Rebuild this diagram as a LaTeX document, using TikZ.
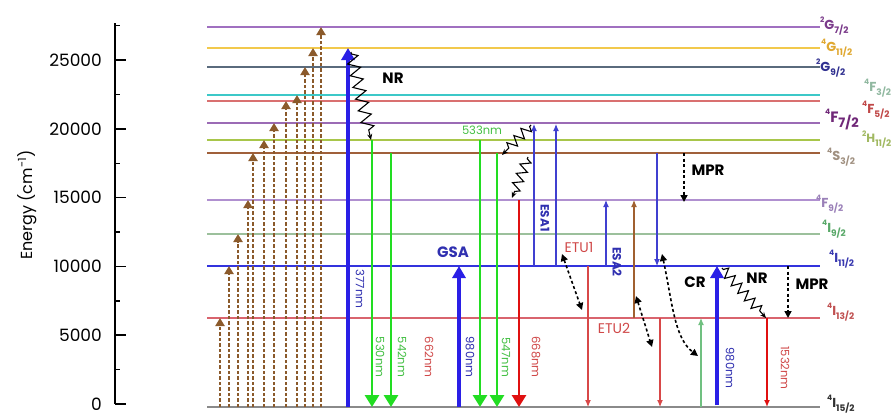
\documentclass[tikz,border=0pt]{standalone}
\usepackage{fontspec}
\setmainfont{Poppins}
\usetikzlibrary{arrows.meta,decorations.pathmorphing}
\definecolor{cG7}{HTML}{A070C0}
\definecolor{cG11}{HTML}{F2C94C}
\definecolor{cG9}{HTML}{5A6B7D}
\definecolor{cF3}{HTML}{3CC8C8}
\definecolor{cF5}{HTML}{D97070}
\definecolor{cF7}{HTML}{9B6BB5}
\definecolor{cH11}{HTML}{A8C64A}
\definecolor{cS3}{HTML}{A0603A}
\definecolor{cF9}{HTML}{B090D0}
\definecolor{cI9}{HTML}{9CC09C}
\definecolor{cI11}{HTML}{3333DD}
\definecolor{cI13}{HTML}{D9646E}
\definecolor{cI15}{HTML}{8A8A8A}
\definecolor{tG7}{HTML}{7A3A8A}
\definecolor{tG11}{HTML}{E0A830}
\definecolor{tG9}{HTML}{303090}
\definecolor{tF3}{HTML}{90B8A0}
\definecolor{tF5}{HTML}{C04848}
\definecolor{tF7}{HTML}{702878}
\definecolor{tH11}{HTML}{A0B860}
\definecolor{tS3}{HTML}{A09080}
\definecolor{tF9}{HTML}{9A80B8}
\definecolor{tI9}{HTML}{58A868}
\definecolor{tI11}{HTML}{3838B0}
\definecolor{tI13}{HTML}{C05050}
\definecolor{tI15}{HTML}{303030}
\definecolor{brn}{HTML}{8B5A2B}
\definecolor{bigblue}{HTML}{2A1FE6}
\definecolor{biggreen}{HTML}{22DD22}
\definecolor{bigred}{HTML}{E01010}
\definecolor{txtblue}{HTML}{3030B0}
\definecolor{txtgreen}{HTML}{44C044}
\definecolor{txtred}{HTML}{D04848}
\definecolor{thinblue}{HTML}{4040D0}
\definecolor{thinred}{HTML}{D84848}
\definecolor{thinbrown}{HTML}{A06030}
\definecolor{thingreen}{HTML}{70C080}
\newcommand\lv[3]{\raisebox{0.5em}{\fontsize{7.5}{7.5}\selectfont #1}#2\raisebox{-0.35em}{\fontsize{9}{9}\selectfont #3}}
\begin{document}
\begin{tikzpicture}[x=1pt,y=-1pt,
  level/.style={line width=1.2pt},
  lbl/.style={font=\fontsize{13}{13}\selectfont\bfseries, inner sep=0pt, anchor=base west},
  ticklbl/.style={font=\fontsize{17}{17}\selectfont, anchor=east, inner sep=0pt},
  wl/.style={font=\fontsize{11.5}{11.5}\selectfont, rotate=-90, inner sep=0pt},
  bold/.style={font=\fontsize{15}{15}\selectfont\bfseries, inner sep=0pt},
  brownarrow/.style={draw=brn, line width=2pt, dash pattern=on 3.5pt off 2pt, -{Triangle[length=8pt,width=9pt,fill=brn]}},
  thickup/.style={line width=3.2pt, -{Triangle[length=12pt,width=13pt]}},
  thickdown/.style={line width=2.8pt, -{Triangle[length=12pt,width=14pt]}},
  thin/.style={line width=1.1pt, -{Latex[length=7pt,width=6pt]}},
  dots/.style={line width=1.6pt, dash pattern=on 3pt off 2.5pt, -{Triangle[length=7pt,width=7pt]}},
  ddots/.style={line width=1.6pt, dash pattern=on 3pt off 2.5pt, {Triangle[length=7pt,width=7pt]}-{Triangle[length=7pt,width=7pt]}},
  zz/.style={line width=1.1pt, decorate, decoration={zigzag, amplitude=6pt, segment length=12pt, pre length=2pt, post length=5pt}, -{Stealth[length=6pt,width=5pt]}}
]
\useasboundingbox (0,0) rectangle (892,415);
\fill[white] (0,0) rectangle (892,415);

% axis
\draw[line width=1.6pt] (115,23) coordinate (axtop) -- (115,404) coordinate (axbot);
\foreach \e/\lab/\n in {0/0/t0,50/5000/t5,100/10000/t10,150/15000/t15,200/20000/t20,250/25000/t25}{
  \pgfmathsetmacro\yy{404-\e*1.376}
  \draw[line width=1.6pt] (115,\yy) coordinate (\n a) -- (126,\yy) coordinate (\n b);
  \node[ticklbl] (\n l) at (102,\yy) {\lab};
}
\foreach \e/\n in {25/m1,75/m2,125/m3,175/m4,225/m5,275/m6}{
  \pgfmathsetmacro\yy{404-\e*1.376}
  \draw[line width=1.4pt] (115,\yy) coordinate (\n a) -- (120,\yy) coordinate (\n b);
}
\node[rotate=90, font=\fontsize{16}{16}\selectfont, inner sep=0pt] (elabel) at (27,205) {Energy (cm\textsuperscript{-1})};

% levels
\foreach \nm/\yy/\cc in {G7/27/cG7, G11/48/cG11, G9/67/cG9, F3/95/cF3, F5/101/cF5, F7/123/cF7, H11/140/cH11, S3/153/cS3, F9/200/cF9, I9/234/cI9, I13/318/cI13, I15/407/cI15}{
  \draw[level, \cc] (207,\yy) coordinate (\nm-l) -- (820,\yy) coordinate (\nm-r);
}
\draw[line width=2pt, cI11] (207,266) coordinate (I11-l) -- (820,266) coordinate (I11-r);

% level labels
\node[lbl, text=tG7] (lG7) at (820,29) {\lv{2}{G}{7/2}};
\node[lbl, text=tG11] (lG11) at (821,51) {\lv{4}{G}{11/2}};
\node[lbl, text=tG9] (lG9) at (816,71) {\lv{2}{G}{9/2}};
\node[lbl, text=tF3] (lF3) at (864,91) {\lv{4}{F}{3/2}};
\node[lbl, text=tF5] (lF5) at (862,113) {\lv{4}{F}{5/2}};
\node[lbl, text=tF7, font=\fontsize{15}{15}\selectfont\bfseries] (lF7) at (825,122) {\lv{4}{F}{\fontsize{13}{13}\selectfont 7/2}};
\node[lbl, text=tH11, font=\fontsize{12}{12}\selectfont\bfseries] (lH11) at (862,142) {\lv{2}{H}{11/2}};
\node[lbl, text=tS3] (lS3) at (827,160) {\lv{4}{S}{3/2}};
\node[lbl, text=tF9] (lF9) at (816,207) {\lv{4}{F}{9/2}};
\node[lbl, text=tI9] (lI9) at (822,232) {\lv{4}{I}{9/2}};
\node[lbl, text=tI11] (lI11) at (829,262) {\lv{4}{I}{11/2}};
\node[lbl, text=tI13] (lI13) at (827,315) {\lv{4}{I}{13/2}};
\node[lbl, text=tI15] (lI15) at (827,407) {\lv{4}{I}{15/2}};

% brown dashed excitation ladder
\foreach \xx/\tt in {220/I13, 229/I11, 238/I9, 248/F9, 253/S3, 264/H11, 274/F7, 286/F5, 297/F3, 305/G9, 313/G11, 321/G7}{
  \coordinate (bb\xx) at (\xx,407);
  \coordinate (bt\xx) at (\xx,0);
  \draw[brownarrow] (bb\xx) -- (bt\xx |- \tt-l);
}

% thick arrows
\coordinate (a377b) at (348,407); \coordinate (a377t) at (348,48);
\draw[thickup, bigblue] (a377b) -- (a377t);
\coordinate (g1t) at (372,140); \coordinate (g1b) at (372,407);
\draw[thickdown, biggreen] (g1t) -- (g1b);
\coordinate (g2t) at (391,153); \coordinate (g2b) at (391,407);
\draw[thickdown, biggreen] (g2t) -- (g2b);
\coordinate (gsab) at (459,407); \coordinate (gsat) at (459,266);
\draw[thickup, bigblue] (gsab) -- (gsat);
\coordinate (g3t) at (480,140); \coordinate (g3b) at (480,407);
\draw[thickdown, biggreen] (g3t) -- (g3b);
\coordinate (g4t) at (497,153); \coordinate (g4b) at (497,407);
\draw[thickdown, biggreen] (g4t) -- (g4b);
\coordinate (r1t) at (519,200); \coordinate (r1b) at (519,407);
\draw[thickdown, bigred] (r1t) -- (r1b);
\coordinate (crb) at (717,405); \coordinate (crt) at (717,266);
\draw[thickup, bigblue] (crb) -- (crt);

% thin arrows
\coordinate (e1b) at (534,266); \coordinate (e1t) at (534,124);
\draw[thin, thinblue] (e1b) -- (e1t);
\coordinate (e2b) at (556,266); \coordinate (e2t) at (556,124);
\draw[thin, thinblue] (e2b) -- (e2t);
\coordinate (e3b) at (606,266); \coordinate (e3t) at (606,200);
\draw[thin, thinblue] (e3b) -- (e3t);
\coordinate (e4b) at (634,318); \coordinate (e4t) at (634,200);
\draw[thin, thinbrown] (e4b) -- (e4t);
\coordinate (e5t) at (657,153); \coordinate (e5b) at (657,266);
\draw[thin, thinblue] (e5t) -- (e5b);
\coordinate (rr1t) at (588,266); \coordinate (rr1b) at (588,407);
\draw[thin, thinred] (rr1t) -- (rr1b);
\coordinate (rr2t) at (660,318); \coordinate (rr2b) at (660,407);
\draw[thin, thinred] (rr2t) -- (rr2b);
\coordinate (gg1b) at (701,407); \coordinate (gg1t) at (701,318);
\draw[thin, thingreen] (gg1b) -- (gg1t);
\coordinate (rr3t) at (767,318); \coordinate (rr3b) at (767,407);
\draw[thin, bigred, line width=1.5pt] (rr3t) -- (rr3b);

% dotted arrows
\coordinate (mp1a) at (684,153); \coordinate (mp1b) at (684,202);
\draw[dots] (mp1a) -- (mp1b);
\coordinate (mp2a) at (788,266); \coordinate (mp2b) at (788,318);
\draw[dots] (mp2a) -- (mp2b);
\coordinate (d1a) at (562,254); \coordinate (d1b) at (582,310);
\draw[ddots] (d1a) -- (d1b);
\coordinate (d2a) at (636,296); \coordinate (d2b) at (652,347);
\draw[ddots] (d2a) -- (d2b);
\coordinate (d3a) at (662,254); \coordinate (d3b) at (698,356);
\draw[ddots] (d3a) .. controls (672,300) and (674,338) .. (d3b);

% zigzags
\coordinate (z1a) at (351,52); \coordinate (z1b) at (371,140);
\draw[zz] (z1a) -- (z1b);
\coordinate (z2a) at (531,125); \coordinate (z2b) at (502,155);
\draw[zz, decoration={amplitude=5pt, segment length=10pt}] (z2a) -- (z2b);
\coordinate (z3a) at (528,157); \coordinate (z3b) at (512,198);
\draw[zz, decoration={amplitude=5pt, segment length=10pt}] (z3a) -- (z3b);
\coordinate (z4a) at (722,268); \coordinate (z4b) at (766,318);
\draw[zz, decoration={amplitude=5pt, segment length=10pt}] (z4a) -- (z4b);

% wavelength labels
\node[wl, text=txtblue] (w377) at (360,289) {377nm};
\node[wl, text=txtgreen] (w530) at (380,357) {530nm};
\node[wl, text=txtgreen] (w542) at (402,357) {542nm};
\node[wl, text=txtred] (w662) at (429,357) {662nm};
\node[wl, text=txtblue] (w980a) at (470,357) {980nm};
\node[wl, text=txtgreen] (w547) at (506,357) {547nm};
\node[wl, text=txtred] (w668) at (536,357) {668nm};
\node[wl, text=txtblue] (w980b) at (730,368) {980nm};
\node[wl, text=txtred] (w1532) at (785,368) {1532nm};
\node[font=\fontsize{11.5}{11.5}\selectfont, text=txtgreen, inner sep=0pt] (w533) at (482,130) {533nm};

% process labels
\node[bold] (nr1) at (393,78) {NR};
\node[bold, text=txtblue] (gsa) at (453,252) {GSA};
\node[bold, text=txtblue, rotate=-90, font=\fontsize{12}{12}\selectfont\bfseries] (esa1) at (545,218) {ESA1};
\node[font=\fontsize{14}{14}\selectfont, text=txtred, inner sep=0pt] (etu1) at (579,247) {ETU1};
\node[bold, text=txtblue, rotate=-90, font=\fontsize{12}{12}\selectfont\bfseries] (esa2) at (617,262) {ESA2};
\node[font=\fontsize{14}{14}\selectfont, text=txtred, inner sep=0pt] (etu2) at (614,328) {ETU2};
\node[bold] (mpr1) at (708,170) {MPR};
\node[bold] (cr) at (695,282) {CR};
\node[bold] (nr2) at (757,278) {NR};
\node[bold] (mpr2) at (812,284) {MPR};
\end{tikzpicture}
\end{document}
